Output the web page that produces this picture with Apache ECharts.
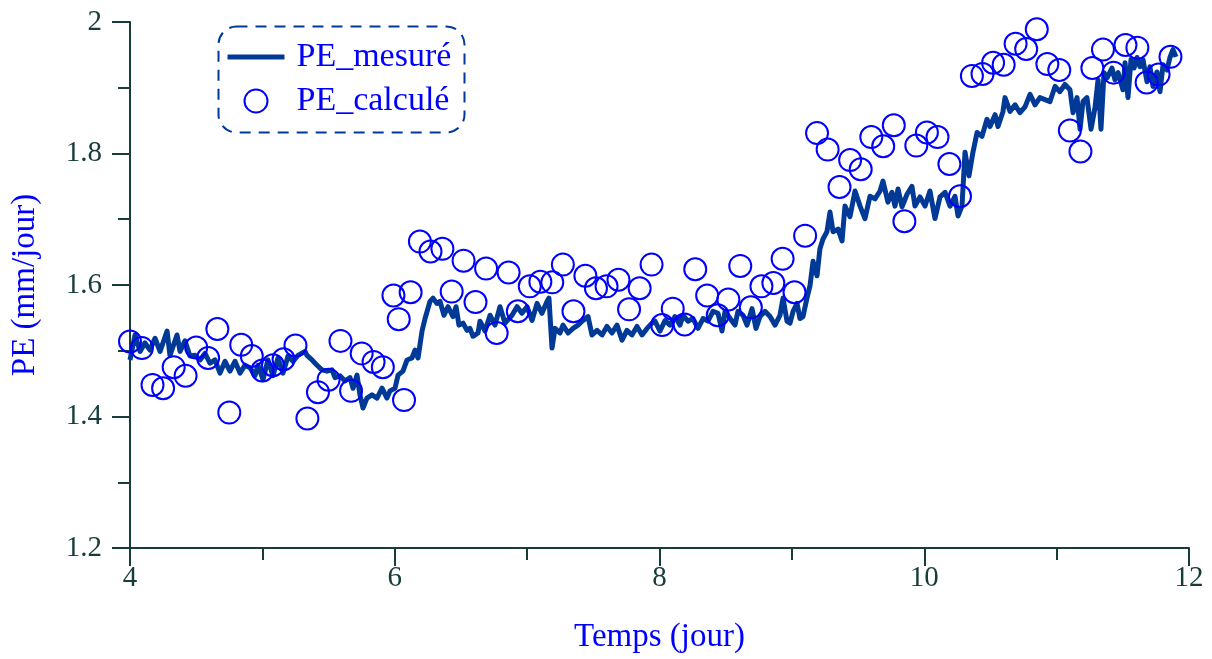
<!DOCTYPE html>
<html>
<head>
<meta charset="utf-8">
<script src="https://cdn.jsdelivr.net/npm/echarts@6/dist/echarts.min.js"></script>
<style>html,body{margin:0;padding:0;background:#fff;}#c{width:1212px;height:659px;}</style>
</head>
<body>
<div id="c"></div>
<script>
// Measured PE (line)
var measuredT = [4.000,4.038,4.076,4.113,4.151,4.189,4.227,4.280,4.302,4.355,4.378,4.415,4.453,4.491,4.529,4.567,4.604,4.642,4.680,4.718,4.755,4.793,4.831,4.869,4.907,4.944,4.967,5.005,5.042,5.080,5.118,5.156,5.194,5.231,5.269,5.322,
5.337,5.375,5.413,5.450,5.488,5.526,5.549,5.586,5.624,5.662,5.685,5.715,5.737,5.760,5.790,5.828,5.866,5.904,5.941,5.964,6.002,6.025,6.062,6.093,6.130,6.153,6.176,6.206,6.229,6.266,6.289,6.319,6.342,6.372,6.402,6.440,6.463,6.485,6.516,6.546,6.568,6.591,6.629,
6.644,6.682,6.720,6.757,6.795,6.833,6.886,6.924,6.961,6.999,7.037,7.075,7.112,7.150,7.165,7.188,7.211,7.248,7.271,7.309,7.347,7.384,7.422,7.460,7.490,7.528,7.566,7.603,7.641,7.679,7.717,7.754,7.792,7.830,7.868,7.906,7.943,
7.966,8.004,8.042,8.079,8.117,8.155,8.178,8.215,8.253,8.291,8.329,8.366,8.404,8.442,8.472,8.495,8.533,8.570,8.593,8.631,8.661,8.699,8.729,8.759,8.797,8.835,8.873,8.910,8.933,8.963,8.986,9.009,9.039,9.061,9.084,9.114,9.137,9.160,9.190,9.212,9.235,9.265,
9.288,9.311,9.349,9.379,9.401,9.439,9.477,9.515,9.552,9.590,9.628,9.666,9.688,9.726,9.756,9.779,9.802,9.832,9.870,9.907,9.930,9.968,10.006,10.043,10.081,10.119,10.157,10.195,10.232,10.255,10.285,10.308,10.338,10.368,10.399,10.436,10.474,10.497,10.535,10.557,10.595,
10.610,10.648,10.686,10.723,10.761,10.799,10.837,10.874,10.912,10.950,10.988,11.025,11.063,11.101,11.124,11.154,11.177,11.199,11.229,11.260,11.290,11.313,11.335,11.358,11.381,11.418,11.441,11.464,11.501,11.517,11.539,11.562,11.585,11.607,11.630,11.652,11.683,11.705,11.728,11.758,11.781,11.804,11.834,11.856,11.879,11.902];
var measuredPE = [1.486,1.524,1.499,1.512,1.501,1.519,1.499,1.530,1.493,1.524,1.499,1.515,1.492,1.493,1.486,1.496,1.481,1.486,1.466,1.484,1.469,1.484,1.466,1.478,1.474,1.462,1.478,1.456,1.486,1.462,1.489,1.466,1.492,1.484,1.493,1.499,
1.493,1.486,1.478,1.471,1.469,1.471,1.459,1.462,1.454,1.459,1.443,1.463,1.433,1.413,1.428,1.433,1.428,1.443,1.428,1.439,1.443,1.463,1.469,1.486,1.489,1.501,1.489,1.530,1.549,1.575,1.580,1.572,1.575,1.554,1.567,1.552,1.567,1.539,1.542,1.531,1.534,1.522,1.527,
1.545,1.530,1.554,1.539,1.567,1.542,1.554,1.567,1.557,1.567,1.546,1.572,1.557,1.575,1.580,1.504,1.534,1.527,1.539,1.527,1.534,1.539,1.546,1.552,1.524,1.531,1.524,1.537,1.527,1.539,1.516,1.531,1.524,1.537,1.524,1.534,1.542,
1.545,1.530,1.546,1.539,1.552,1.539,1.554,1.545,1.549,1.534,1.549,1.545,1.560,1.557,1.530,1.560,1.549,1.539,1.560,1.554,1.539,1.564,1.534,1.552,1.560,1.552,1.539,1.554,1.580,1.545,1.542,1.560,1.572,1.549,1.552,1.580,1.599,1.636,1.614,1.655,1.670,1.681,
1.711,1.681,1.685,1.667,1.720,1.704,1.743,1.720,1.701,1.735,1.731,1.743,1.758,1.726,1.741,1.720,1.746,1.719,1.738,1.750,1.720,1.734,1.720,1.743,1.701,1.734,1.741,1.720,1.735,1.705,1.720,1.802,1.766,1.802,1.832,1.826,1.852,1.841,1.859,1.841,1.864,
1.885,1.864,1.874,1.862,1.871,1.890,1.874,1.885,1.882,1.879,1.902,1.894,1.905,1.897,1.862,1.885,1.837,1.879,1.885,1.837,1.870,1.912,1.837,1.923,1.915,1.930,1.912,1.923,1.897,1.938,1.885,1.943,1.930,1.946,1.932,1.943,1.909,1.932,1.902,1.924,1.894,1.935,1.927,1.946,1.958,1.947];

// Calculated PE (circles)
var calcT = [4.00,4.09,4.17,4.25,4.33,4.42,4.50,4.59,4.66,4.75,4.84,4.92,5.00,5.08,5.16,5.25,5.34,5.42,5.50,5.59,5.67,5.75,5.84,5.91,5.99,6.03,6.07,6.12,6.19,6.27,6.36,6.43,6.52,6.61,6.69,6.77,6.86,6.93,7.02,7.10,7.19,7.27,7.35,7.44,7.52,7.60,7.69,7.77,7.85,7.94,8.02,8.10,8.19,8.27,8.36,8.44,8.52,8.61,8.69,8.77,8.86,8.93,9.02,9.10,9.19,9.27,9.36,9.44,9.52,9.60,9.69,9.77,9.85,9.94,10.02,10.10,10.19,10.27,10.36,10.44,10.52,10.60,10.69,10.77,10.85,10.93,11.02,11.10,11.18,11.27,11.35,11.43,11.52,11.61,11.68,11.77,11.86];
var calcPE = [1.514,1.504,1.448,1.443,1.475,1.462,1.505,1.489,1.533,1.406,1.509,1.492,1.470,1.478,1.487,1.508,1.397,1.437,1.456,1.515,1.439,1.496,1.483,1.475,1.584,1.548,1.425,1.589,1.666,1.651,1.655,1.590,1.637,1.574,1.625,1.527,1.619,1.560,1.598,1.605,1.604,1.631,1.560,1.614,1.595,1.598,1.608,1.563,1.595,1.631,1.539,1.564,1.540,1.624,1.584,1.554,1.578,1.629,1.566,1.598,1.603,1.640,1.589,1.675,1.831,1.806,1.749,1.790,1.776,1.825,1.811,1.843,1.697,1.812,1.832,1.825,1.784,1.735,1.918,1.921,1.938,1.935,1.967,1.959,1.989,1.936,1.927,1.835,1.803,1.930,1.958,1.923,1.965,1.961,1.908,1.920,1.947];

var xTicks = [4, 6, 8, 10, 12];
var yTicks = [1.2, 1.4, 1.6, 1.8, 2];

var axisColor = '#163c3c';
var font = 'Liberation Serif';

var lineData = measuredT.map(function (t, i) { return [t, measuredPE[i]]; });
var scatData = calcT.map(function (t, i) { return [t, calcPE[i]]; });

var chart = echarts.init(document.getElementById('c'), null, {renderer: 'canvas'});
chart.setOption({
  animation: false,
  backgroundColor: '#ffffff',
  grid: {left: 130, right: 23, top: 22, bottom: 105, containLabel: false},
  legend: {
    orient: 'vertical',
    left: 220, top: 35,
    itemWidth: 57, itemHeight: 23, itemGap: 10,
    lineStyle: {width: 5},
    textStyle: {fontFamily: font, fontSize: 34, color: '#0000ff', padding: [0, 0, 0, 7]},
    data: [
      {name: 'PE_mesuré', itemStyle: {opacity: 0}, lineStyle: {width: 5, color: '#003a96'}},
      {name: 'PE_calculé', icon: 'circle', itemStyle: {color: 'rgba(0,0,0,0)', borderColor: '#0000ff', borderWidth: 2}}
    ]
  },
  graphic: [{
    type: 'rect', left: 216, top: 24, z: 10,
    shape: {width: 246, height: 106, r: 18},
    style: {fill: 'none', stroke: '#003a96', lineWidth: 2, lineDash: [11, 8]}
  }],
  xAxis: {
    type: 'value', min: 4, max: 12, interval: 2,
    name: 'Temps (jour)', nameLocation: 'middle', nameGap: 73,
    nameTextStyle: {fontFamily: font, fontSize: 33, color: '#0000ff'},
    axisLine: {show: true, lineStyle: {color: axisColor, width: 2}},
    axisTick: {show: true, length: 18, lineStyle: {color: axisColor, width: 2}},
    minorTick: {show: true, splitNumber: 2, length: 12, lineStyle: {color: axisColor, width: 2}},
    splitLine: {show: false},
    axisLabel: {fontFamily: font, fontSize: 29, color: axisColor, margin: 16,
      formatter: function (v) { return xTicks.indexOf(v) >= 0 ? String(v) : ''; }}
  },
  yAxis: {
    type: 'value', min: 1.2, max: 2, interval: 0.2,
    name: 'PE (mm/jour)', nameLocation: 'middle', nameGap: 88, nameRotate: 90,
    nameTextStyle: {fontFamily: font, fontSize: 33, color: '#0000ff'},
    axisLine: {show: true, lineStyle: {color: axisColor, width: 2}},
    axisTick: {show: true, length: 18, lineStyle: {color: axisColor, width: 2}},
    minorTick: {show: true, splitNumber: 2, length: 12, lineStyle: {color: axisColor, width: 2}},
    splitLine: {show: false},
    axisLabel: {fontFamily: font, fontSize: 29, color: axisColor, margin: 28,
      formatter: function (v) {
        var r = Math.round(v * 10) / 10;
        return r === 2 ? '2' : r.toFixed(1);
      }}
  },
  series: [
    {
      name: 'PE_mesuré', type: 'line', data: lineData,
      symbol: 'none', showSymbol: false,
      lineStyle: {color: '#003a96', width: 5, join: 'round'},
      itemStyle: {color: '#003a96'},
      z: 2
    },
    {
      name: 'PE_calculé', type: 'scatter', data: scatData,
      symbol: 'circle', symbolSize: 22,
      itemStyle: {color: 'rgba(0,0,0,0)', borderColor: '#0000ff', borderWidth: 2, opacity: 1},
      z: 3
    }
  ]
});
</script>
</body>
</html>
